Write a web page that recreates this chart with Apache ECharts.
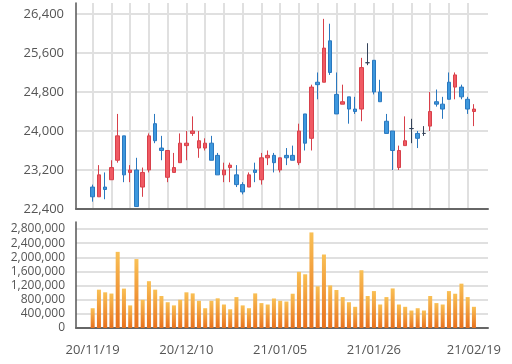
<!DOCTYPE html>
<html>
<head>
<meta charset="utf-8">
<script src="https://cdn.jsdelivr.net/npm/echarts@6/dist/echarts.min.js"></script>
<style>
html,body{margin:0;padding:0;background:#fff;}
#chart{width:512px;height:364px;}
</style>
</head>
<body>
<div id="chart"></div>
<script>
var dates = ['20/11/19','20/11/20','20/11/23','20/11/24','20/11/25','20/11/26','20/11/27','20/11/30',
'20/12/01','20/12/02','20/12/03','20/12/04','20/12/07','20/12/08','20/12/09','20/12/10','20/12/11',
'20/12/14','20/12/15','20/12/16','20/12/17','20/12/18','20/12/21','20/12/22','20/12/23','20/12/24',
'20/12/28','20/12/29','20/12/30','21/01/04','21/01/05','21/01/06','21/01/07','21/01/08','21/01/11',
'21/01/12','21/01/13','21/01/14','21/01/15','21/01/18','21/01/19','21/01/20','21/01/21','21/01/22',
'21/01/25','21/01/26','21/01/27','21/01/28','21/01/29','21/02/01','21/02/02','21/02/03','21/02/04',
'21/02/05','21/02/08','21/02/09','21/02/10','21/02/15','21/02/16','21/02/17','21/02/18','21/02/19'];

var opens  = [22850,22650,22850,23000,23400,23900,23150,23200,22850,23200,24150,23650,23050,23150,23350,23700,
23950,23650,23650,23750,23500,23100,23250,23100,22900,22850,23200,23000,23450,23500,23200,23500,23500,23350,
24350,23850,25000,25000,25850,24750,24550,24700,24450,24450,25400,25450,24800,24200,24000,23250,23700,24050,
23950,23950,24100,24600,24550,25000,24900,24900,24650,24400];
var closes = [22650,23100,22800,23250,23900,23100,23200,22450,23150,23900,23800,23600,23600,23250,23750,23750,
24000,23800,23750,23400,23100,23200,23300,22900,22750,23100,23150,23450,23500,23350,23450,23450,23400,24000,
23750,24900,24950,25700,25200,24350,24600,24450,24400,25300,25400,24800,24600,23950,23600,23600,23800,24050,
23850,23950,24400,24550,24450,24650,25150,24700,24450,24450];
var lows   = [22550,22650,22600,23000,23350,22950,22950,22450,22650,23150,23750,23400,22950,23150,23350,23400,
23900,23450,23600,23400,23100,22950,22950,22850,22700,22850,22950,22900,23300,23150,23150,23300,23400,23300,
23600,23600,24650,25000,25150,24350,24550,24150,24350,24200,25350,24750,24600,23950,23200,23200,23700,23750,
23650,23900,24000,24500,24250,24650,24650,24650,24350,24100];
var highs  = [22900,23300,23150,23400,24350,23900,23300,23450,23250,23950,24350,23900,23600,23550,23950,24000,
24300,24000,23850,23900,23550,23350,23350,23300,22950,23150,23350,23550,23600,23550,23450,23650,23700,24150,
24350,24950,25200,26300,26200,25200,24950,24700,24700,25500,25800,25450,25050,24350,24000,23700,24300,24250,
24000,24100,24800,24850,24700,25200,25200,24950,24700,24550];
var volumes = [560000,1085000,1010000,975000,2155000,1115000,640000,1950000,800000,1325000,1085000,905000,
730000,640000,800000,1010000,980000,770000,560000,770000,840000,665000,530000,875000,640000,560000,980000,
705000,665000,835000,770000,750000,970000,1590000,1520000,2705000,1180000,2080000,1205000,1075000,875000,
730000,600000,1635000,905000,1045000,665000,875000,1120000,665000,600000,495000,560000,495000,905000,705000,
665000,1045000,970000,1255000,875000,600000];

var priceTicks = [22400,23200,24000,24800,25600,26400];
var volumeTicks = [0,400000,800000,1200000,1600000,2000000,2400000,2800000];
var gridLineIdx = [0,3,6,9,12,15,18,21,24,27,30,33,36,39,42,45,48,51,54,57,60];
var dateLabelIdx = [0,15,30,45,61];

var source = dates.map(function (d, i) {
  return [i, opens[i], closes[i], lows[i], highs[i], volumes[i]];
});

var font = 'Open Sans';
var chart = echarts.init(document.getElementById('chart'), null, {renderer: 'canvas'});
chart.setOption({
  animation: false,
  dataset: {source: source},
  grid: [
    {left: 76, right: 24, top: 3, height: 206},
    {left: 76, right: 24, top: 222, height: 106}
  ],
  xAxis: [
    {
      type: 'value', gridIndex: 0, min: -2.67, max: 63.25,
      axisLine: {show: true, onZero: false, lineStyle: {color: '#666', width: 2}},
      axisTick: {show: false, customValues: gridLineIdx},
      axisLabel: {show: false},
      splitLine: {show: true, lineStyle: {color: '#e0e0e0', width: 2}}
    },
    {
      type: 'value', gridIndex: 1, min: -2.67, max: 63.25,
      axisLine: {show: true, onZero: false, lineStyle: {color: '#666', width: 2}},
      axisTick: {show: false, customValues: dateLabelIdx},
      axisLabel: {
        show: true, customValues: dateLabelIdx, margin: 16,
        color: '#555', fontFamily: font, fontSize: 13,
        formatter: function (v) { return dates[Math.round(v)] || ''; }
      },
      splitLine: {show: false}
    }
  ],
  yAxis: [
    {
      type: 'value', gridIndex: 0, min: 22400, max: 26625, interval: 800,
      axisLine: {show: true, onZero: false, lineStyle: {color: '#555', width: 1.5}},
      axisTick: {show: false, customValues: priceTicks},
      axisLabel: {
        customValues: priceTicks, margin: 12, color: '#555', fontFamily: font, fontSize: 13,
        formatter: function (v) { return v.toLocaleString('en-US'); }
      },
      splitLine: {show: true, lineStyle: {color: '#e0e0e0', width: 2}}
    },
    {
      type: 'value', gridIndex: 1, min: 0, max: 3000000, interval: 400000,
      axisLine: {show: true, onZero: false, lineStyle: {color: '#555', width: 1.5}},
      axisTick: {show: false, customValues: volumeTicks},
      axisLabel: {
        customValues: volumeTicks, margin: 11, color: '#555', fontFamily: font, fontSize: 12,
        formatter: function (v) { return v.toLocaleString('en-US'); }
      },
      splitLine: {show: true, lineStyle: {color: '#e0e0e0', width: 2}}
    }
  ],
  series: [
    {
      type: 'candlestick', xAxisIndex: 0, yAxisIndex: 0,
      encode: {x: 0, y: [1, 2, 3, 4]},
      barWidth: 4,
      itemStyle: {
        color: '#f05a63', color0: '#3d97dd',
        borderColor: '#d8404a', borderColor0: '#2a78bf',
        borderColorDoji: '#34435a', borderWidth: 1
      }
    },
    {
      type: 'bar', xAxisIndex: 1, yAxisIndex: 1,
      encode: {x: 0, y: 5},
      barWidth: 4,
      itemStyle: {
        color: new echarts.graphic.LinearGradient(0, 0, 0, 1, [
          {offset: 0, color: '#f9c055'},
          {offset: 1, color: '#e8701c'}
        ])
      }
    }
  ]
});
</script>
</body>
</html>
